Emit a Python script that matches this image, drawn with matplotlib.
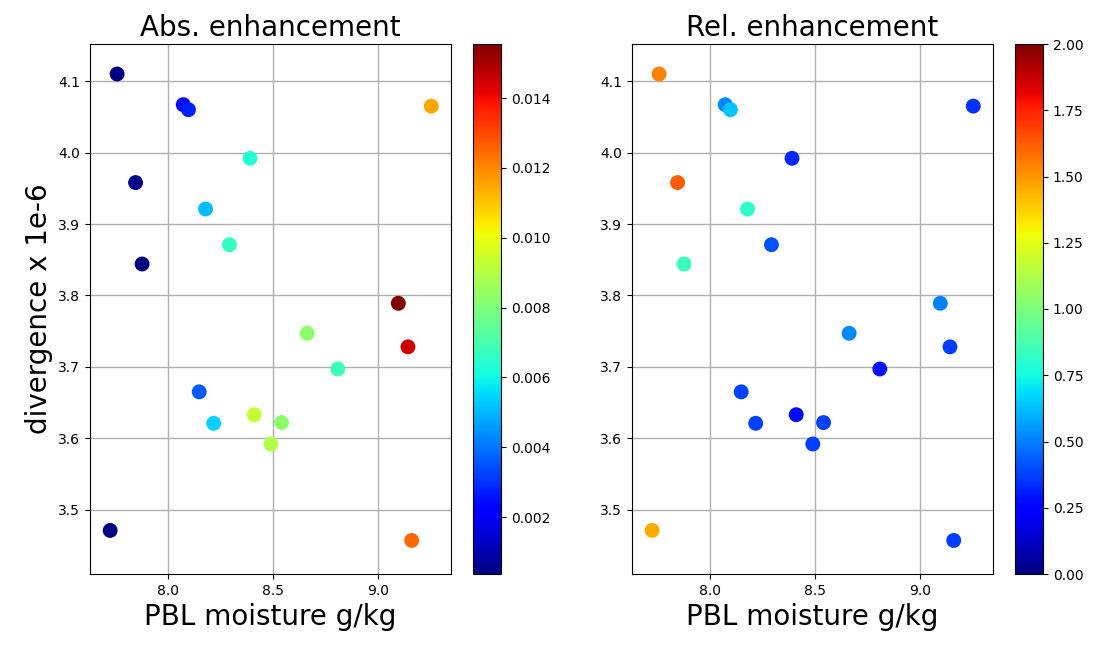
import matplotlib
matplotlib.use("Agg")
import matplotlib.pyplot as plt
import numpy as np

moisture = [7.758, 8.073, 8.098, 9.254, 7.846, 8.391, 8.179, 8.293, 7.877, 9.097,
            9.143, 8.663, 8.809, 8.149, 8.411, 8.541, 8.218, 8.490, 7.725, 9.161]
divergence = [4.110, 4.067, 4.060, 4.065, 3.958, 3.992, 3.921, 3.871, 3.844, 3.789,
              3.728, 3.747, 3.697, 3.665, 3.633, 3.622, 3.621, 3.592, 3.471, 3.457]
abs_enh = [0.00040, 0.0023, 0.0028, 0.0115, 0.0006, 0.0064, 0.0051, 0.0066, 0.00037, 0.01555,
           0.0145, 0.0083, 0.0068, 0.0036, 0.0093, 0.0083, 0.0054, 0.0089, 0.00038, 0.0125]
rel_enh = [1.54, 0.52, 0.64, 0.35, 1.62, 0.33, 0.81, 0.42, 0.84, 0.50,
           0.37, 0.52, 0.29, 0.38, 0.27, 0.38, 0.38, 0.37, 1.46, 0.37]

fig = plt.figure(figsize=(11.02, 6.45), dpi=100)
bot = 71 / 645
h = 530 / 645
ax1 = fig.add_axes([90 / 1102, bot, 361 / 1102, h])
cax1 = fig.add_axes([473 / 1102, bot, 28 / 1102, h])
ax2 = fig.add_axes([632 / 1102, bot, 361 / 1102, h])
cax2 = fig.add_axes([1015 / 1102, bot, 28 / 1102, h])

sc1 = ax1.scatter(moisture, divergence, c=abs_enh, cmap="jet", s=115, linewidths=0, zorder=3)
sc2 = ax2.scatter(moisture, divergence, c=rel_enh, cmap="jet", vmin=0, vmax=2, s=115, linewidths=0, zorder=3)

for ax, title in [(ax1, "Abs. enhancement"), (ax2, "Rel. enhancement")]:
    ax.set_title(title, fontsize=20)
    ax.set_xlabel("PBL moisture g/kg", fontsize=20)
    ax.grid(True, color="#b0b0b0", linewidth=1)
    ax.set_axisbelow(True)
    ax.set_xticks([8.0, 8.5, 9.0])
    ax.set_yticks([3.5, 3.6, 3.7, 3.8, 3.9, 4.0, 4.1])
    ax.set_xlim(7.629, 9.348)
    ax.set_ylim(3.41, 4.152)
ax1.set_ylabel("divergence x 1e-6", fontsize=20)

cb1 = fig.colorbar(sc1, cax=cax1)
cb1.set_ticks([0.002, 0.004, 0.006, 0.008, 0.010, 0.012, 0.014])
cb2 = fig.colorbar(sc2, cax=cax2)
cb2.set_ticks([0.0, 0.25, 0.5, 0.75, 1.0, 1.25, 1.5, 1.75, 2.0])

fig.savefig("out.png", dpi=100)
